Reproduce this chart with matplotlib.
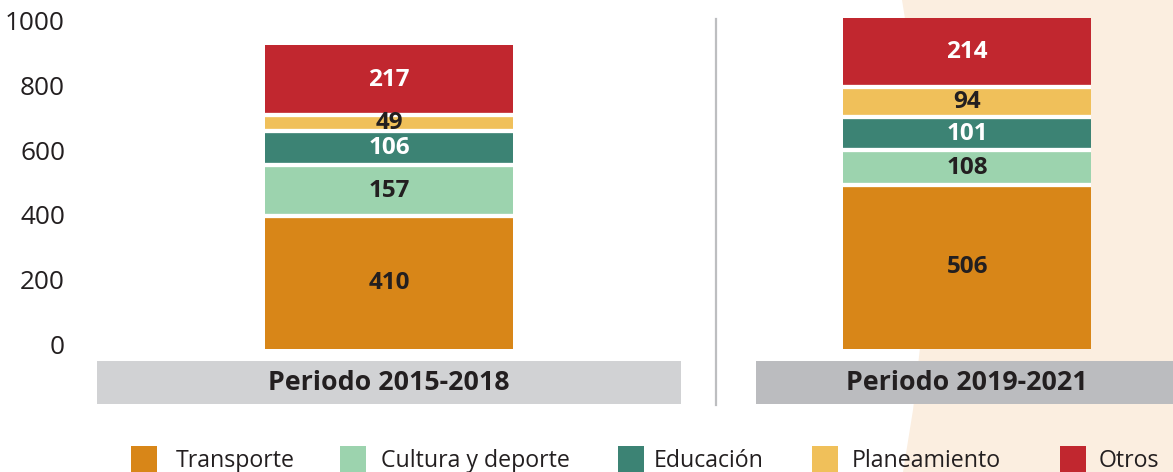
import matplotlib
matplotlib.use("Agg")
import matplotlib.pyplot as plt
from matplotlib.patches import Rectangle, Polygon
from matplotlib.transforms import blended_transform_factory, offset_copy

periods = ["Periodo 2015-2018", "Periodo 2019-2021"]
categories = ["Transporte", "Cultura y deporte", "Educación", "Planeamiento", "Otros"]
transporte = [410, 506]
cultura = [157, 108]
educacion = [106, 101]
planeamiento = [49, 94]
otros = [217, 214]
series = [transporte, cultura, educacion, planeamiento, otros]
colors = ["#D88618", "#9CD3AE", "#3C8374", "#F0C05A", "#C1272F"]
label_colors = ["#231F20", "#231F20", "white", "#231F20", "white"]
yticks = [0, 200, 400, 600, 800, 1000]

W, H = 1173, 472
fig = plt.figure(figsize=(W / 100, H / 100), dpi=100)
fig.patch.set_facecolor("white")

# background axes in pixel coordinates for decorations
bg = fig.add_axes([0, 0, 1, 1], zorder=0)
bg.set_xlim(0, W)
bg.set_ylim(H, 0)
bg.axis("off")

shape = [(902, 0), (910, 50), (920, 140), (925, 240), (922, 330), (913, 410), (903, 472), (W, H), (W, 0)]
bg.add_patch(Polygon(shape, closed=True, facecolor="#FBEEE0", edgecolor="none"))

# period boxes
box_specs = [(97, 681, "#D1D2D4"), (756, W, "#BBBCBF")]
for x0, x1, fc in box_specs:
    bg.add_patch(Rectangle((x0, 361), x1 - x0, 43, facecolor=fc, edgecolor="none"))

# separator
bg.plot([716, 716], [19, 405], color="#BDBEC0", linewidth=1.6)

# legend
sq_x = [131, 340, 618, 812, 1060]
tx_x = [176, 381, 654, 852, 1099]
for sx, tx, c, lab in zip(sq_x, tx_x, colors, categories):
    bg.add_patch(Rectangle((sx, 446), 26, 26, facecolor=c, edgecolor="none"))
    bg.text(tx, 461, lab, ha="left", va="center", fontsize=16.7, color="#231F20",
            fontfamily="Open Sans")

# main axes
ax_l, ax_r = 97, 1173
y0_px, y1000_px = 349, 25
ax = fig.add_axes([ax_l / W, 1 - y0_px / H, (ax_r - ax_l) / W, (y0_px - y1000_px) / H], zorder=1)
ax.set_facecolor("none")
ax.set_xlim(-0.505, 1.356)
ax.set_ylim(0, 1000)
for s in ax.spines.values():
    s.set_visible(False)
ax.set_xticks([])
ax.set_yticks(yticks)
ax.tick_params(axis="y", length=0, labelleft=False)

# y tick labels (positioned through the axis scale, slight upward nudge)
tick_trans = offset_copy(blended_transform_factory(ax.transAxes, ax.transData), fig=fig,
                         x=-32, y=1.5, units="dots")
for v in yticks:
    ax.text(0, v, str(v), transform=tick_trans, ha="right", va="center", fontsize=18.8,
            color="#231F20", fontfamily="Open Sans", clip_on=False)

xs = [0, 1]
width = 248 / 578
bottoms = [0, 0]
for vals, c, lc in zip(series, colors, label_colors):
    ax.bar(xs, vals, width, bottom=bottoms, color=c, edgecolor="none", linewidth=0,
           clip_on=False, zorder=3)
    for x, v, b in zip(xs, vals, bottoms):
        ax.text(x, b + v / 2, str(v), ha="center", va="center", color=lc, fontsize=17.5,
                fontweight="bold", fontfamily="Open Sans", zorder=5)
    bottoms = [b + v for b, v in zip(bottoms, vals)]

# white separators between stacked segments
cum = [0, 0]
for vals in series[:-1]:
    cum = [c0 + v for c0, v in zip(cum, vals)]
    ax.hlines(cum, [x - width / 2 for x in xs], [x + width / 2 for x in xs], colors="white",
              linewidth=3.1, capstyle="butt", zorder=4, clip_on=False)

trans = blended_transform_factory(ax.transData, bg.transData)
for x, lab in zip(xs, periods):
    ax.text(x, 383, lab, transform=trans, ha="center", va="center", fontsize=19.3,
            fontweight="bold", color="#231F20", fontfamily="Open Sans", clip_on=False)

fig.savefig("out.png", dpi=100)
